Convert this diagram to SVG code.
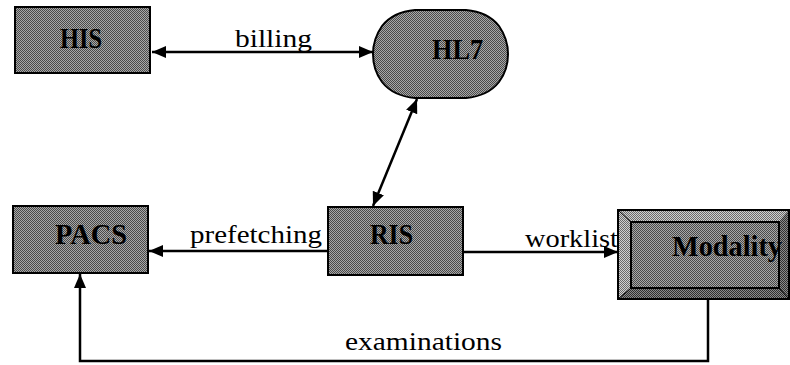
<svg xmlns="http://www.w3.org/2000/svg" width="790" height="365" viewBox="0 0 790 365">
  <defs>
    <!-- dithered grey fill used by all nodes -->
    <pattern id="dither" patternUnits="userSpaceOnUse" width="2" height="2">
      <rect width="2" height="2" fill="#a8a8a8"/>
      <rect width="1" height="1" fill="#4a4a4a"/>
      <rect x="1" y="1" width="1" height="1" fill="#4a4a4a"/>
    </pattern>
    <pattern id="ditherLight" patternUnits="userSpaceOnUse" width="2" height="2">
      <rect width="2" height="2" fill="#d0d0d0"/>
      <rect width="1" height="1" fill="#6a6a6a"/>
      <rect x="1" y="1" width="1" height="1" fill="#6a6a6a"/>
    </pattern>
    <pattern id="ditherDark" patternUnits="userSpaceOnUse" width="2" height="2">
      <rect width="2" height="2" fill="#8a8a8a"/>
      <rect width="1" height="1" fill="#303030"/>
      <rect x="1" y="1" width="1" height="1" fill="#303030"/>
    </pattern>
    <marker id="arrow" viewBox="0 0 14 12" refX="14" refY="6" markerWidth="14" markerHeight="12" markerUnits="userSpaceOnUse" orient="auto-start-reverse">
      <path d="M0,0 L14,6 L0,12 Z" fill="#000"/>
    </marker>
  </defs>
  <style>
    .node { fill: url(#dither); stroke: #000; stroke-width: 2; }
    .title { font-family: "Liberation Serif", "Times New Roman", serif; font-weight: bold; font-size: 29px; fill: #000; }
    .label { font-family: "Liberation Serif", "Times New Roman", serif; font-size: 25px; fill: #000; }
    .edge { fill: none; stroke: #000; stroke-width: 2.5; }
  </style>

  <g id="connectors">
    <line class="edge" x1="152" y1="52" x2="373" y2="52" stroke-width="3.5" marker-start="url(#arrow)" marker-end="url(#arrow)"/>
    <line class="edge" x1="417" y1="99" x2="373" y2="206" marker-start="url(#arrow)" marker-end="url(#arrow)"/>
    <line class="edge" x1="328" y1="251" x2="149" y2="251" marker-end="url(#arrow)"/>
    <line class="edge" x1="463" y1="252" x2="618" y2="252" marker-end="url(#arrow)"/>
    <polyline class="edge" points="708,299 708,361 80,361 80,274" stroke-width="2" marker-end="url(#arrow)"/>
    <text class="label" x="235" y="47" textLength="77" lengthAdjust="spacingAndGlyphs">billing</text>
    <text class="label" x="190" y="243" textLength="132" lengthAdjust="spacingAndGlyphs">prefetching</text>
    <text class="label" x="525" y="247" textLength="93" lengthAdjust="spacingAndGlyphs">worklist</text>
    <text class="label" x="345" y="350" textLength="157" lengthAdjust="spacingAndGlyphs">examinations</text>
  </g>

  <g id="his">
    <rect class="node" x="15" y="7" width="135" height="66"/>
    <text class="title" x="60" y="48" textLength="42" lengthAdjust="spacingAndGlyphs">HIS</text>
  </g>

  <g id="hl7">
    <path class="node" d="M415,10 L466,10 Q488,12 499,26 Q508,39 508,54 Q508,70 499,82 Q488,96 466,98 L415,98 Q393,96 382,82 Q373,70 373,54 Q373,39 382,26 Q393,12 415,10 Z"/>
    <text class="title" x="432" y="59" textLength="51" lengthAdjust="spacingAndGlyphs">HL7</text>
  </g>

  <g id="pacs">
    <rect class="node" x="13" y="206" width="135" height="67"/>
    <text class="title" x="55" y="244" textLength="72" lengthAdjust="spacingAndGlyphs">PACS</text>
  </g>

  <g id="ris">
    <rect class="node" x="328" y="207" width="135" height="68"/>
    <text class="title" x="370" y="244" textLength="43" lengthAdjust="spacingAndGlyphs">RIS</text>
  </g>

  <g id="modality">
    <!-- bevelled button: light top/left, dark bottom/right -->
    <rect x="618" y="210" width="171" height="89" fill="url(#dither)"/>
    <polygon points="618,210 789,210 779,222 631,222 631,288 618,299" fill="url(#ditherLight)"/>
    <polygon points="789,210 789,299 618,299 631,288 779,288 779,222" fill="url(#ditherDark)"/>
    <rect x="631" y="222" width="148" height="66" fill="url(#dither)" stroke="#000" stroke-width="2"/>
    <line x1="618" y1="210" x2="631" y2="222" stroke="#000" stroke-width="1"/>
    <line x1="618" y1="299" x2="631" y2="288" stroke="#000" stroke-width="1"/>
    <line x1="789" y1="299" x2="779" y2="288" stroke="#000" stroke-width="1"/>
    <rect x="618" y="210" width="171" height="89" fill="none" stroke="#000" stroke-width="2"/>
    <text class="title" x="672" y="256" textLength="110" lengthAdjust="spacingAndGlyphs">Modality</text>
  </g>
</svg>
